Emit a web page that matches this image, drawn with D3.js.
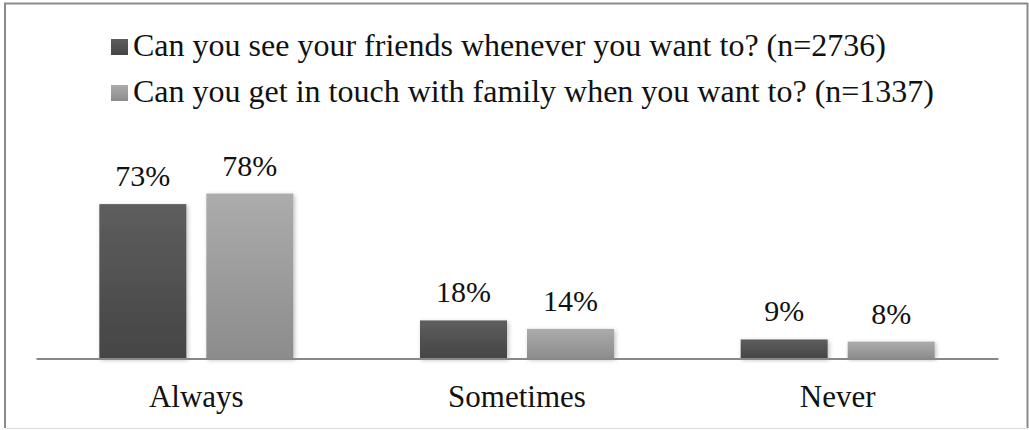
<!DOCTYPE html>
<html>
<head>
<meta charset="utf-8">
<script src="https://cdn.jsdelivr.net/npm/d3@7"></script>
<style>
  html, body { margin: 0; padding: 0; background: #fff; }
  svg { display: block; }
</style>
</head>
<body>
<svg id="chart" width="1029" height="430"></svg>
<script>
// Survey answers, one group per response category
const categories = ["Always", "Sometimes", "Never"];
const seriesNames = [
  "Can you see your friends whenever you want to? (n=2736)",
  "Can you get in touch with family when you want to? (n=1337)"
];
const friendsValues = [0.73, 0.18, 0.09];
const familyValues = [0.78, 0.14, 0.08];
const seriesValues = [friendsValues, familyValues];

const FONT = "Liberation Serif";
const svg = d3.select("#chart");

// Gradients and shadow for the bars
const defs = svg.append("defs");
const grads = [
  { id: "gDark", top: "#5e5e5e", bottom: "#454545" },
  { id: "gLight", top: "#acacac", bottom: "#8c8c8c" }
];
grads.forEach(g => {
  const lg = defs.append("linearGradient").attr("id", g.id)
    .attr("x1", 0).attr("y1", 0).attr("x2", 0).attr("y2", 1);
  lg.append("stop").attr("offset", "0%").attr("stop-color", g.top);
  lg.append("stop").attr("offset", "100%").attr("stop-color", g.bottom);
});
const f = defs.append("filter").attr("id", "shadow")
  .attr("x", "-20%").attr("y", "-20%").attr("width", "140%").attr("height", "140%");
f.append("feDropShadow").attr("dx", 1.5).attr("dy", 1.5)
  .attr("stdDeviation", 2).attr("flood-color", "#000").attr("flood-opacity", 0.25);

// Outer frame
svg.append("line").attr("x1", 5).attr("x2", 5).attr("y1", 3).attr("y2", 428)
  .attr("stroke", "#8a8a8a").attr("stroke-width", 2);
svg.append("line").attr("x1", 4).attr("x2", 1028).attr("y1", 3.5).attr("y2", 3.5)
  .attr("stroke", "#8a8a8a").attr("stroke-width", 2);
svg.append("line").attr("x1", 1027.5).attr("x2", 1027.5).attr("y1", 3).attr("y2", 428)
  .attr("stroke", "#8a8a8a").attr("stroke-width", 2);
svg.append("line").attr("x1", 6).attr("x2", 1027).attr("y1", 428.5).attr("y2", 428.5)
  .attr("stroke", "#dcdcdc").attr("stroke-width", 1);

// Scales
const x = d3.scaleBand().domain(categories).range([36, 998]).paddingInner(0).paddingOuter(0);
const y = d3.scaleLinear().domain([0, 0.9]).range([358.5, 168.15]);
const barW = 87, barGap = 20;
const fills = ["url(#gDark)", "url(#gLight)"];

const fmt = d3.format(".0%");

// Bars with value labels
seriesValues.forEach((vals, si) => {
  const g = svg.append("g");
  const offset = si === 0 ? -(barGap / 2 + barW) : barGap / 2;
  g.selectAll("rect").data(vals).join("rect")
    .attr("x", (d, i) => x(categories[i]) + x.bandwidth() / 2 + offset)
    .attr("y", d => y(d))
    .attr("width", barW)
    .attr("height", d => y(0) - y(d))
    .attr("fill", fills[si])
    .attr("filter", "url(#shadow)");
  g.selectAll("text").data(vals).join("text")
    .attr("x", (d, i) => x(categories[i]) + x.bandwidth() / 2 + offset + barW / 2)
    .attr("y", d => y(d) - 18)
    .attr("text-anchor", "middle")
    .attr("font-family", FONT)
    .attr("font-size", 30)
    .attr("fill", "#111")
    .text(d => fmt(d));
});

// Category axis
const axis = svg.append("g").attr("transform", `translate(0,${y(0)})`)
  .call(d3.axisBottom(x).tickSize(0).tickPadding(0));
axis.attr("font-family", FONT);
axis.select(".domain").attr("stroke", "#888").attr("stroke-width", 2.2);
axis.selectAll(".tick text")
  .attr("font-family", FONT)
  .attr("font-size", 31).attr("fill", "#111")
  .attr("dy", 0).attr("y", 48);

// Legend
const legend = svg.append("g");
seriesNames.forEach((name, i) => {
  const ly = 56 + i * 46;
  legend.append("rect").attr("x", 111).attr("y", ly - 17)
    .attr("width", 17).attr("height", 16).attr("fill", fills[i]);
  legend.append("text").attr("x", 133).attr("y", ly)
    .attr("font-family", FONT).attr("font-size", 32).attr("fill", "#111")
    .text(name);
});
</script>
</body>
</html>
